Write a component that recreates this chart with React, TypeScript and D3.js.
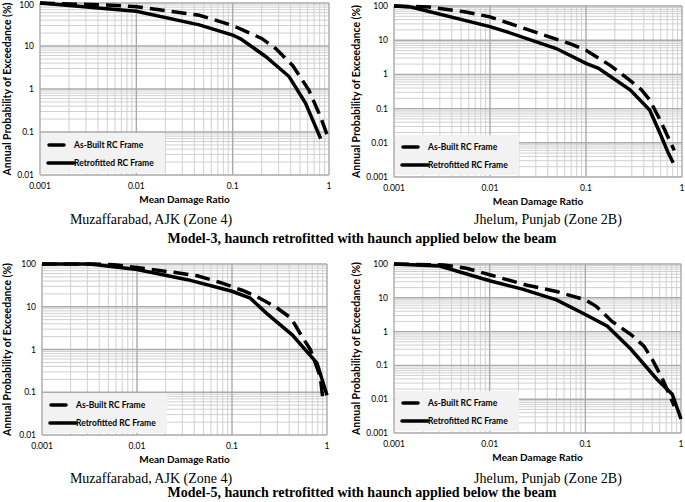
import React, { useEffect, useRef } from "react";
import * as d3 from "d3";

// tick labels
const xTicks = [0.001, 0.01, 0.1, 1];
const yTicksZone4 = [0.01, 0.1, 1, 10, 100];
const yTicksZone2B = [0.001, 0.01, 0.1, 1, 10, 100];

// [mean damage ratio, annual probability of exceedance (%)]
// Model-3, Muzaffarabad
const m3MuzAsBuilt = [[0.001, 100], [0.0055, 89], [0.01, 82], [0.045, 52], [0.1, 30], [0.13, 23], [0.2, 15], [0.28, 8.7], [0.42, 3.5], [0.62, 0.93], [0.82, 0.22], [1, 0.065]];
const m3MuzRetro = [[0.001, 100], [0.01, 64], [0.045, 31], [0.1, 18], [0.122, 14.5], [0.22, 5.7], [0.385, 1.95], [0.57, 0.47], [0.82, 0.07]];
// Model-3, Jhelum
const m3JhlAsBuilt = [[0.001, 100], [0.0023, 94], [0.0056, 67], [0.01, 48], [0.033, 15.6], [0.068, 7.9], [0.1, 5.1], [0.12, 3.7], [0.177, 1.87], [0.27, 0.76], [0.38, 0.35], [0.46, 0.18], [0.59, 0.047], [0.74, 0.012], [0.83, 0.006]];
const m3JhlRetro = [[0.001, 100], [0.0015, 93], [0.01, 25], [0.015, 17.5], [0.049, 5.7], [0.1, 2.1], [0.135, 1.5], [0.29, 0.35], [0.46, 0.091], [0.59, 0.019], [0.72, 0.005], [0.81, 0.0026]];
// Model-5, Muzaffarabad
const m5MuzAsBuilt = [[0.001, 100], [0.0035, 100], [0.0057, 96], [0.011, 81], [0.024, 64], [0.043, 53], [0.075, 37], [0.13, 24], [0.18, 17.5], [0.29, 9.8], [0.42, 5.4], [0.52, 2.4], [0.67, 0.98], [0.85, 0.23], [0.9, 0.075]];
const m5MuzRetro = [[0.001, 100], [0.0032, 100], [0.01, 74], [0.034, 43], [0.1, 23], [0.155, 16], [0.23, 7.1], [0.43, 2.2], [0.785, 0.48], [1, 0.085]];
// Model-5, Jhelum
const m5JhlAsBuilt = [[0.001, 100], [0.0033, 94], [0.0057, 75], [0.01, 48], [0.024, 24], [0.05, 15.4], [0.1, 8.7], [0.13, 5.6], [0.19, 2], [0.3, 0.82], [0.41, 0.37], [0.5, 0.15], [0.63, 0.044], [0.85, 0.0063]];
const m5JhlRetro = [[0.001, 100], [0.003, 87], [0.01, 32], [0.022, 18], [0.05, 8.7], [0.1, 3.2], [0.17, 1.45], [0.3, 0.3], [0.56, 0.039], [0.81, 0.014], [1, 0.0026]];

const legendLabels = ["As-Built RC Frame", "Retrofitted RC Frame"];
const xTitle = "Mean Damage Ratio";
const yTitle = "Annual Probability of Exceedance (%)";
const locations = ["Muzaffarabad, AJK (Zone 4)", "Jhelum, Punjab (Zone 2B)"];
const modelCaptions = [
  "Model-3, haunch retrofitted with haunch applied below the beam",
  "Model-5, haunch retrofitted with haunch applied below the beam",
];

const W = 685;
const H = 502;
const sans = "Lato, 'Open Sans', sans-serif";
const serif = "'Liberation Serif', 'Times New Roman', serif";

const panels = [
  { l: 40, r: 329, t: 3, b: 175, yTicks: yTicksZone4, asBuilt: m3MuzAsBuilt, retro: m3MuzRetro, titleX: 7 },
  { l: 394, r: 682, t: 6, b: 177, yTicks: yTicksZone2B, asBuilt: m3JhlAsBuilt, retro: m3JhlRetro, titleX: 356 },
  { l: 42, r: 327, t: 264, b: 435, yTicks: yTicksZone4, asBuilt: m5MuzAsBuilt, retro: m5MuzRetro, titleX: 7 },
  { l: 394, r: 681, t: 264, b: 433, yTicks: yTicksZone2B, asBuilt: m5JhlAsBuilt, retro: m5JhlRetro, titleX: 356 },
];

const App = () => {
  const svgRef = useRef(null);

  useEffect(() => {
    const svg = d3.select(svgRef.current);
    svg.selectAll("*").remove();

    panels.forEach((p) => {
      const g = svg.append("g");
      const x = d3.scaleLog().domain([0.001, 1]).range([p.l, p.r]);
      const y = d3
        .scaleLog()
        .domain([p.yTicks[0], 100])
        .range([p.b, p.t]);

      // minor grid
      const xMinor = x.ticks().filter((d) => !xTicks.includes(d));
      const yMinor = y.ticks().filter((d) => !p.yTicks.includes(d));
      g.selectAll(".xminor")
        .data(xMinor)
        .join("line")
        .attr("x1", (d) => x(d))
        .attr("x2", (d) => x(d))
        .attr("y1", p.t)
        .attr("y2", p.b)
        .attr("stroke", "#d0d0d0")
        .attr("stroke-width", 1);
      g.selectAll(".yminor")
        .data(yMinor)
        .join("line")
        .attr("x1", p.l)
        .attr("x2", p.r)
        .attr("y1", (d) => y(d))
        .attr("y2", (d) => y(d))
        .attr("stroke", "#d0d0d0")
        .attr("stroke-width", 1);
      // major grid
      g.selectAll(".xmajor")
        .data(xTicks)
        .join("line")
        .attr("x1", (d) => x(d))
        .attr("x2", (d) => x(d))
        .attr("y1", p.t)
        .attr("y2", p.b)
        .attr("stroke", "#aaaaaa")
        .attr("stroke-width", 1.4);
      g.selectAll(".ymajor")
        .data(p.yTicks)
        .join("line")
        .attr("x1", p.l)
        .attr("x2", p.r)
        .attr("y1", (d) => y(d))
        .attr("y2", (d) => y(d))
        .attr("stroke", "#aaaaaa")
        .attr("stroke-width", 1.4);

      // tick labels
      g.selectAll(".xlab")
        .data(xTicks)
        .join("text")
        .attr("x", (d) => x(d))
        .attr("y", p.b + 14)
        .attr("text-anchor", "middle")
        .attr("font-family", sans)
        .attr("font-size", 8.5)
        .text((d) => String(d));
      g.selectAll(".ylab")
        .data(p.yTicks)
        .join("text")
        .attr("x", p.l - 6)
        .attr("y", (d) => Math.max(y(d) + 3, 8))
        .attr("text-anchor", "end")
        .attr("font-family", sans)
        .attr("font-size", 8.5)
        .text((d) => String(d));

      // axis titles
      g.append("text")
        .attr("x", (p.l + p.r) / 2)
        .attr("y", p.b + 28)
        .attr("text-anchor", "middle")
        .attr("font-family", sans)
        .attr("font-weight", "bold")
        .attr("font-size", 10)
        .text(xTitle);
      g.append("text")
        .attr("transform", `translate(${p.titleX + 3.5},${(p.t + p.b) / 2}) rotate(-90)`)
        .attr("text-anchor", "middle")
        .attr("font-family", sans)
        .attr("font-weight", "bold")
        .attr("font-size", 10.5)
        .text(yTitle);

      // legend
      const lg = g.append("g").attr("transform", `translate(${p.l + 1},${p.b - 42})`);
      lg.append("rect").attr("width", 124).attr("height", 40).attr("fill", "#f2f2f2");
      lg.append("line")
        .attr("x1", 8).attr("x2", 23).attr("y1", 12).attr("y2", 12)
        .attr("stroke", "#000").attr("stroke-width", 3.5).attr("stroke-linecap", "round");
      lg.append("line")
        .attr("x1", 7).attr("x2", 33).attr("y1", 30).attr("y2", 30)
        .attr("stroke", "#000").attr("stroke-width", 3.5).attr("stroke-linecap", "round");
      lg.selectAll(".leg")
        .data(legendLabels)
        .join("text")
        .attr("x", 33)
        .attr("y", (d, i) => 15 + i * 18)
        .attr("font-family", sans)
        .attr("font-weight", "bold")
        .attr("font-size", 8.5)
        .text((d) => d);

      // curves
      const line = d3
        .line()
        .x((d) => x(d[0]))
        .y((d) => y(d[1]));
      g.append("path")
        .attr("d", line(p.asBuilt))
        .attr("fill", "none")
        .attr("stroke", "#000")
        .attr("stroke-width", 3.5)
        .attr("stroke-dasharray", "15,7");
      g.append("path")
        .attr("d", line(p.retro))
        .attr("fill", "none")
        .attr("stroke", "#000")
        .attr("stroke-width", 3.5);
    });

    // captions
    const capY = [[224, 243], [483, 497]];
    capY.forEach((cy, row) => {
      svg.selectAll(`.loc${row}`)
        .data(locations)
        .join("text")
        .attr("x", (d, i) => (i === 0 ? 151 : 548))
        .attr("y", cy[0])
        .attr("text-anchor", "middle")
        .attr("font-family", serif)
        .attr("font-size", 14)
        .text((d) => d);
      svg.append("text")
        .attr("x", 362)
        .attr("y", cy[1])
        .attr("text-anchor", "middle")
        .attr("font-family", serif)
        .attr("font-weight", "bold")
        .attr("font-size", 14)
        .text(modelCaptions[row]);
    });
  }, []);

  return (
    <svg
      ref={svgRef}
      width={W}
      height={H}
      style={{ position: "absolute", left: 0, top: 0, background: "#fff" }}
    ></svg>
  );
};

export default App;
